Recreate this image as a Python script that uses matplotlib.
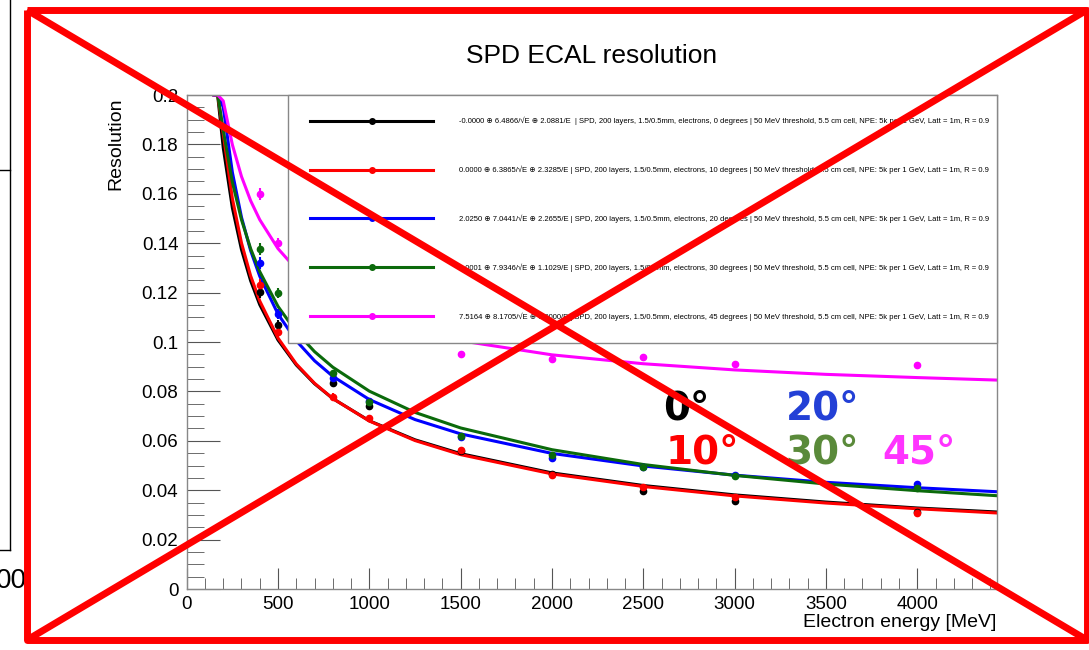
import numpy as np
import matplotlib
matplotlib.use('Agg')
import matplotlib.pyplot as plt
from matplotlib.lines import Line2D
from matplotlib.ticker import MultipleLocator, FuncFormatter

plt.rcParams['font.family'] = ['Liberation Sans', 'DejaVu Sans']

# measured points (energy in MeV, resolution)
energies = [400, 500, 800, 1000, 1500, 2000, 2500, 3000, 4000]
res_0 = [0.1204, 0.1069, 0.0835, 0.0741, 0.0560, 0.0465, 0.0397, 0.0358, 0.0310]
res_10 = [0.1230, 0.1042, 0.0779, 0.0691, 0.0563, 0.0462, 0.0414, 0.0374, 0.0306]
res_20 = [0.1319, 0.1113, 0.0853, 0.0761, 0.0617, 0.0529, 0.0495, 0.0462, 0.0425]
res_30 = [0.1377, 0.1200, 0.0873, 0.0758, 0.0620, 0.0543, 0.0495, 0.0458, 0.0408]
res_45 = [0.1598, 0.1400, 0.1180, 0.1110, 0.0950, 0.0930, 0.0938, 0.0910, 0.0907]
res_err = [0.0025, 0.0020, 0.0015, 0.0012, 0.0010, 0.0008, 0.0007, 0.0007, 0.0006]

# fitted curves (clipped at 0.2 like in the original)
energies_fit = [150, 170, 200, 250, 300, 350, 400, 500, 600, 700, 800, 1000,
                1250, 1500, 2000, 2500, 3000, 3500, 4000, 4430]
fit_0 = [0.2, 0.1996, 0.1787, 0.1543, 0.1374, 0.1248, 0.1151, 0.1008, 0.0907, 0.0831,
         0.0771, 0.0681, 0.0604, 0.0548, 0.0470, 0.0419, 0.0381, 0.0352, 0.0328, 0.0312]
fit_10 = [0.2, 0.2, 0.1843, 0.1581, 0.1401, 0.1268, 0.1166, 0.1016, 0.0911, 0.0833,
          0.0771, 0.0680, 0.0601, 0.0544, 0.0466, 0.0415, 0.0377, 0.0348, 0.0325, 0.0308]
fit_20 = [0.2, 0.2, 0.1951, 0.1687, 0.1505, 0.1370, 0.1266, 0.1113, 0.1005, 0.0924,
          0.0861, 0.0767, 0.0686, 0.0628, 0.0549, 0.0498, 0.0461, 0.0432, 0.0410, 0.0394]
fit_30 = [0.2, 0.2, 0.1858, 0.1647, 0.1495, 0.1378, 0.1285, 0.1144, 0.1041, 0.0961,
          0.0898, 0.0801, 0.0715, 0.0652, 0.0564, 0.0504, 0.0460, 0.0425, 0.0398, 0.0378]
fit_45 = [0.2, 0.2, 0.1976, 0.1799, 0.1670, 0.1572, 0.1495, 0.1378, 0.1295, 0.1232,
          0.1183, 0.1110, 0.1048, 0.1005, 0.0948, 0.0912, 0.0887, 0.0869, 0.0856, 0.0846]

angles = ['0', '10', '20', '30', '45']
fit_params = ['-0.0000 ⊕ 6.4866/√E ⊕ 2.0881/E ',
              '0.0000 ⊕ 6.3865/√E ⊕ 2.3285/E',
              '2.0250 ⊕ 7.0441/√E ⊕ 2.2655/E',
              '0.0001 ⊕ 7.9346/√E ⊕ 1.1029/E',
              '7.5164 ⊕ 8.1705/√E ⊕ 0.0000/E']
setup = ('SPD, 200 layers, 1.5/0.5mm, electrons, {} degrees | 50 MeV threshold, '
         '5.5 cm cell, NPE: 5k per 1 GeV, Latt = 1m, R = 0.9')

colors = ['black', '#ff0000', '#0000ff', '#0b6a0b', '#ff00ff']
label_colors = ['black', '#ff0000', '#2340d6', '#5a8a3a', '#ff33ff']
points = [res_0, res_10, res_20, res_30, res_45]
fits = [fit_0, fit_10, fit_20, fit_30, fit_45]

W, H = 1089, 650
fig = plt.figure(figsize=(W / 100, H / 100), dpi=100)
ax = fig.add_axes([186.7 / W, 1 - 589 / H, 810 / W, 494 / H])

handles = []
for pts, fit, col in zip(points, fits, colors):
    ax.plot(energies_fit, fit, color=col, lw=2.2, zorder=2)
    ax.errorbar(energies, pts, yerr=res_err, fmt='o', color=col, ms=4.5,
                elinewidth=1.5, capsize=0, zorder=3)
    handles.append(Line2D([], [], color=col, lw=2.2, marker='o', ms=4))

labels = [f'{p} | {setup.format(a)}' for p, a in zip(fit_params, angles)]

ax.set_xlim(0, 4435)
ax.set_ylim(0, 0.2)
ax.xaxis.set_major_locator(MultipleLocator(500))
ax.xaxis.set_minor_locator(MultipleLocator(100))
ax.yaxis.set_major_locator(MultipleLocator(0.02))
ax.yaxis.set_minor_locator(MultipleLocator(0.005))
ax.yaxis.set_major_formatter(FuncFormatter(lambda v, p: f'{v:g}'))
ax.tick_params(which='both', direction='in', colors='#555555', labelcolor='black',
               labelsize=13.5, top=False, right=False)
ax.tick_params(axis='y', which='major', length=24, pad=6)
ax.tick_params(axis='y', which='minor', length=12)
ax.tick_params(axis='x', which='major', length=15, pad=5)
ax.tick_params(axis='x', which='minor', length=8)
for s in ax.spines.values():
    s.set_color('#888888')
    s.set_linewidth(1)

ax.set_xlabel('Electron energy [MeV]', fontsize=14, loc='right', labelpad=1)
fig.text(116 / W, 1 - 97 / H, 'Resolution', rotation=90, fontsize=14,
         ha='center', va='top')
fig.text(592 / W, 1 - 56 / H, 'SPD ECAL resolution', fontsize=19,
         ha='center', va='center')

leg = ax.legend(handles, labels, loc='upper left', bbox_to_anchor=(0.125, 0.5, 0.875, 0.5),
                mode='expand', borderaxespad=0, fontsize=5.5, numpoints=1,
                handlelength=16.2, handletextpad=3.4, labelspacing=5.3, borderpad=2.85,
                fancybox=False, framealpha=1, edgecolor='#888888')
leg.get_frame().set_linewidth(1)
leg.set_zorder(5)

# big angle labels
label_pos = [(2607, 0.0688), (2623, 0.0510), (3280, 0.0688), (3280, 0.0510), (3810, 0.0510)]
for a, (x, y), col in zip(angles, label_pos, label_colors):
    ax.text(x, y, a + '°', color=col, fontsize=28, fontweight='bold',
            family='DejaVu Sans', va='baseline', ha='left', zorder=6)

# left-over pieces at the left edge of the screenshot
fig.add_artist(Line2D([10 / W, 10 / W], [1, 1 - 550 / H], color='black', lw=1))
fig.add_artist(Line2D([0, 10 / W], [1 - 170 / H, 1 - 170 / H], color='black', lw=1))
fig.add_artist(Line2D([0, 10 / W], [1 - 550 / H, 1 - 550 / H], color='black', lw=1))
fig.text(-4 / W, 1 - 588 / H, '00', fontsize=20, ha='left', va='baseline')

# red cross over the picture
def px(x, y):
    return x / W, 1 - y / H

red = dict(color='#ff0000', lw=5, zorder=20, solid_capstyle='butt')
for (x0, y0), (x1, y1) in [((27, 10), (1087, 640)), ((27, 640), (1087, 10))]:
    a, b = px(x0, y0), px(x1, y1)
    fig.add_artist(Line2D([a[0], b[0]], [a[1], b[1]], **red))
box = [(27, 10), (1087, 10), (1087, 640), (27, 640), (27, 10)]
fig.add_artist(Line2D([px(*p)[0] for p in box], [px(*p)[1] for p in box], **red))

fig.savefig('out.png', dpi=100)
